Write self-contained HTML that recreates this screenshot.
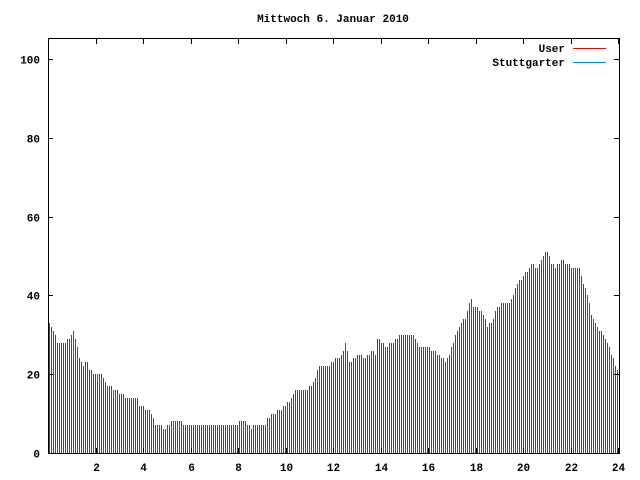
<!DOCTYPE html>
<html><head><meta charset="utf-8"><style>
html,body{margin:0;padding:0;background:#fff;width:640px;height:480px;overflow:hidden}
svg text{font-family:"Liberation Mono",monospace;font-weight:bold;font-size:11px;fill:#000}
</style></head><body>
<svg id="s" width="640" height="480" xmlns="http://www.w3.org/2000/svg" shape-rendering="crispEdges">
<rect width="640" height="480" fill="#fff"/>
<g id="bars" fill="#ff0000"></g>
<text x="333" y="22" text-anchor="middle">Mittwoch 6. Januar 2010</text>
<text x="565" y="52" text-anchor="end">User</text>
<line x1="573" y1="48.5" x2="606" y2="48.5" stroke="#ff0000" stroke-width="1"/>
<text x="565" y="66" text-anchor="end">Stuttgarter</text>
<line x1="573" y1="62.5" x2="606" y2="62.5" stroke="#0080ff" stroke-width="1"/>
<g id="axes" stroke="#000" stroke-width="1"></g>
<g id="labels"></g>
<rect x="48.5" y="38.5" width="571" height="415" fill="none" stroke="#000"/>
</svg>
<script>
var ns="http://www.w3.org/2000/svg";
function Y(v){return 453-v*3.94;}
var kp=[[49,33],[53,31],[57,28],[65,28],[69,29],[73,31],[75,29],[79,24],[83,22],[87,23],[89,21],[93,20],[101,20],[103,19],[107,17],[115,16],[121,15],[125,14],[137,14],[139,12],[149,11],[153,9],[155,7],[161,7],[163,6],[169,7],[171,8],[181,8],[183,7],[237,7],[239,8],[245,8],[247,7],[251,6],[253,7],[265,7],[267,9],[273,10],[279,11],[285,12],[289,13],[295,16],[305,16],[311,17],[315,19],[319,22],[329,22],[335,24],[339,24],[343,26],[345,28],[349,23],[355,24],[359,25],[365,24],[371,26],[375,25],[377,29],[385,27],[393,28],[399,30],[413,30],[419,27],[427,27],[433,26],[441,24],[445,23],[449,25],[453,28],[457,31],[461,33],[465,34],[469,38],[471,39],[473,37],[477,37],[483,35],[487,32],[491,33],[497,37],[503,38],[509,38],[513,40],[517,43],[523,45],[527,46],[531,48],[537,47],[543,50],[547,51],[551,48],[555,47],[561,49],[567,48],[573,47],[579,47],[583,43],[587,40],[591,35],[595,33],[599,31],[603,30],[607,28],[611,25],[615,22],[618,21]];
function val(x){for(var i=0;i<kp.length-1;i++){if(x>=kp[i][0]&&x<=kp[i+1][0]){var t=(x-kp[i][0])/(kp[i+1][0]-kp[i][0]);return Math.round(kp[i][1]+t*(kp[i+1][1]-kp[i][1]));}}return 21;}
var g=document.getElementById("bars");
for(var x=49;x<=617;x+=2){var v=val(x);var y=Math.round(Y(v));var r=document.createElementNS(ns,"rect");r.setAttribute("x",x);r.setAttribute("y",y);r.setAttribute("width",1);r.setAttribute("height",453-y);g.appendChild(r);}
var a=document.getElementById("axes"),L=document.getElementById("labels");
function ln(x1,y1,x2,y2){var l=document.createElementNS(ns,"line");l.setAttribute("x1",x1);l.setAttribute("y1",y1);l.setAttribute("x2",x2);l.setAttribute("y2",y2);a.appendChild(l);}
function tx(x,y,s,anc){var t=document.createElementNS(ns,"text");t.setAttribute("x",x);t.setAttribute("y",y);t.setAttribute("text-anchor",anc);t.textContent=s;L.appendChild(t);}
for(var v=0;v<=100;v+=20){var y=Math.round(Y(v))+0.5;ln(48,y,53,y);ln(619,y,614,y);tx(40,y+4,String(v),"end");}
for(var h=2;h<=24;h+=2){var x=Math.round(48.5+h*23.73)+0.5;ln(x,453,x,448);ln(x,39,x,44);tx(x,471,String(h),"middle");}
</script>
</body></html>
